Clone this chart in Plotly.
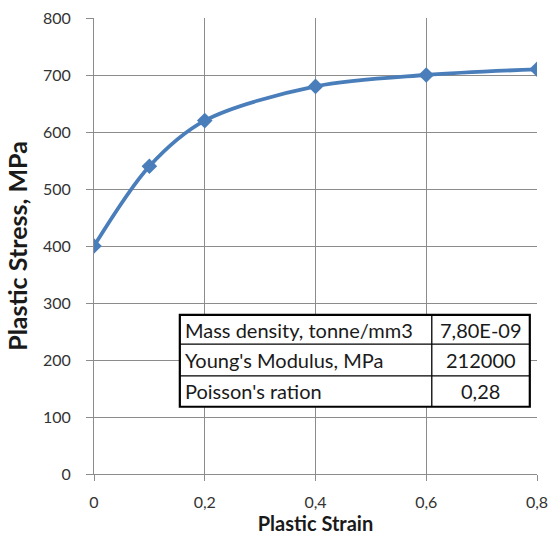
import plotly.graph_objects as go

strain = [0, 0.1, 0.2, 0.4, 0.6, 0.8]
stress = [400, 540, 620, 680, 700, 710]
x_ticks = [0, 0.2, 0.4, 0.6, 0.8]
x_tick_labels = ["0", "0,2", "0,4", "0,6", "0,8"]
y_ticks = [0, 100, 200, 300, 400, 500, 600, 700, 800]
table_props = ["Mass density, tonne/mm3", "Young's Modulus, MPa", "Poisson's ration"]
table_vals = ["7,80E-09", "212000", "0,28"]

FONT = "Lato"
fig = go.Figure()
fig.add_trace(go.Scatter(
    x=strain, y=stress, mode="lines+markers",
    line=dict(color="#4a7ebb", width=3.8, shape="spline", smoothing=0.9),
    marker=dict(symbol="diamond", size=12, color="#4a7ebb"),
    showlegend=False,
))

# table geometry (data coordinates)
tx0, tx1, tdiv = 0.155, 0.787, 0.61
ty_top, ty_bot = 279, 118
row_lines = [228, 172]
shapes = [dict(type="rect", xref="x", yref="y", x0=tx0, x1=tx1, y0=ty_bot, y1=ty_top,
               fillcolor="white", line=dict(color="black", width=2.2), layer="above")]
for yy in row_lines:
    shapes.append(dict(type="line", xref="x", yref="y", x0=tx0, x1=tx1, y0=yy, y1=yy,
                       line=dict(color="black", width=1.3)))
shapes.append(dict(type="line", xref="x", yref="y", x0=tdiv, x1=tdiv, y0=ty_bot, y1=ty_top,
                   line=dict(color="black", width=1.3)))
bounds = [ty_top] + row_lines + [ty_bot]
annotations = []
for i, (p, v) in enumerate(zip(table_props, table_vals)):
    yc = (bounds[i] + bounds[i + 1]) / 2
    annotations.append(dict(xref="x", yref="y", x=tx0 + 0.006, y=yc, text=p, showarrow=False,
                            xanchor="left", yanchor="middle", font=dict(family=FONT, size=20, color="#1a1a1a")))
    annotations.append(dict(xref="x", yref="y", x=(tdiv + tx1) / 2, y=yc, text=v, showarrow=False,
                            xanchor="center", yanchor="middle", font=dict(family=FONT, size=20, color="#1a1a1a")))

fig.update_layout(
    width=554, height=544,
    margin=dict(l=94, r=17, t=18, b=70),
    paper_bgcolor="white", plot_bgcolor="white",
    shapes=shapes, annotations=annotations,
    font=dict(family=FONT, color="#333333"),
)
fig.update_xaxes(
    range=[0, 0.8], tickvals=x_ticks, ticktext=x_tick_labels, automargin=False,
    showgrid=True, gridcolor="#8c8c8c", gridwidth=1,
    showline=True, linecolor="#8c8c8c", linewidth=1,
    ticks="outside", ticklen=6, tickcolor="#8c8c8c", ticklabelstandoff=8,
    tickfont=dict(family=FONT, size=16, color="#333333"),
    zeroline=False,
    title=dict(text="<b>Plastic Strain</b>", font=dict(family=FONT, size=20, color="#1a1a1a"), standoff=5),
)
fig.update_yaxes(
    range=[0, 800], tickvals=y_ticks, automargin=False,
    showgrid=True, gridcolor="#8c8c8c", gridwidth=1,
    showline=True, linecolor="#8c8c8c", linewidth=1,
    ticks="outside", ticklen=7, tickcolor="#8c8c8c", ticklabelstandoff=12,
    tickfont=dict(family=FONT, size=16, color="#333333"),
    zeroline=False,
    title=dict(text="<b>Plastic Stress, MPa</b>", font=dict(family=FONT, size=25, color="#1a1a1a"), standoff=8),
)
fig.write_html("out.html")
